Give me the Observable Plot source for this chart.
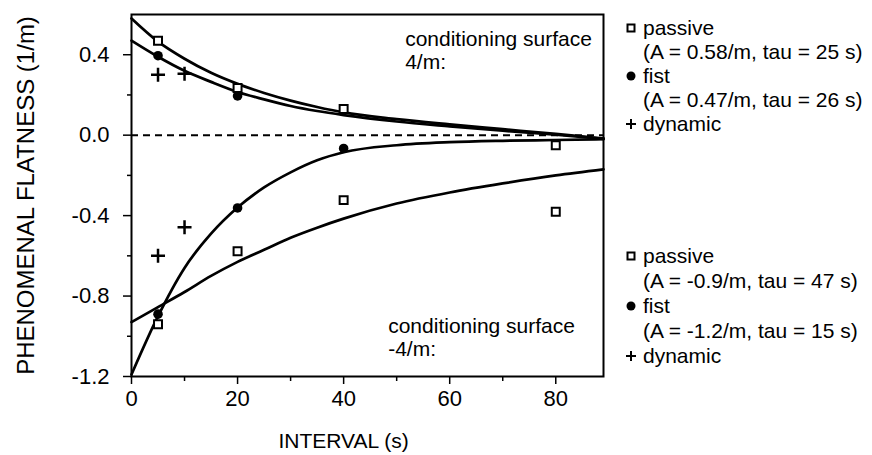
<!DOCTYPE html>
<html>
<head>
<meta charset="utf-8">
<script src="https://cdn.jsdelivr.net/npm/d3@7"></script>
<script src="https://cdn.jsdelivr.net/npm/@observablehq/plot@0.6"></script>
<style>
  body { margin: 0; background: #fff; }
  #wrap { position: relative; width: 872px; height: 455px; font-family: "Liberation Sans", Arial, Helvetica, sans-serif; color: #000; background: #fff; }
  .lg { position: absolute; left: 625px; height: 24px; line-height: 24px; font-size: 21px; white-space: nowrap; display: flex; align-items: center; }
  .mk { width: 18px; height: 24px; display: flex; align-items: center; }
</style>
</head>
<body>
<div id="wrap"></div>
<script>
// ---- data ----
// measured points (interval s, flatness 1/m)
const upperPassiveT = [5, 20, 40, 80];
const upperPassiveV = [0.47, 0.235, 0.13, -0.05];
const upperFistT = [5, 20];
const upperFistV = [0.395, 0.195];
const upperDynT = [5, 10];
const upperDynV = [0.30, 0.305];
const lowerPassiveT = [5, 20, 40, 80];
const lowerPassiveV = [-0.94, -0.577, -0.323, -0.381];
const lowerFistT = [5, 20, 40];
const lowerFistV = [-0.89, -0.362, -0.066];
const lowerDynT = [5, 10];
const lowerDynV = [-0.60, -0.458];

// fitted curves
const curveT = [0, 5, 10, 15, 20, 25, 30, 35, 40, 50, 60, 70, 80, 89];
const fitUpperPassive = [0.58, 0.465, 0.38, 0.31, 0.255, 0.21, 0.172, 0.14, 0.113, 0.08, 0.054, 0.03, 0.006, -0.016];
const fitUpperFist    = [0.47, 0.39, 0.32, 0.265, 0.215, 0.178, 0.145, 0.12, 0.10, 0.068, 0.044, 0.022, 0.002, -0.018];
const fitLowerPassive = [-0.93, -0.855, -0.78, -0.70, -0.63, -0.57, -0.51, -0.46, -0.415, -0.34, -0.285, -0.24, -0.20, -0.17];
const fitLowerFist    = [-1.19, -0.90, -0.66, -0.49, -0.36, -0.26, -0.185, -0.125, -0.085, -0.05, -0.035, -0.028, -0.024, -0.02];

// ticks
const xMajor = [0, 20, 40, 60, 80];
const xMinor = [10, 30, 50, 70];
const yMajor = [-1.2, -0.8, -0.4, 0, 0.4];
const yMinor = [-1.0, -0.6, -0.2, 0.2];

// texts
const yLabel = "PHENOMENAL FLATNESS (1/m)";
const xLabel = "INTERVAL (s)";
const annotations = [
  {x: 51.6, y: 0.423, text: "conditioning surface\n4/m:"},
  {x: 48.4, y: -1.005, text: "conditioning surface\n-4/m:"}
];
const legendTop = [
  ["square", "passive"],
  [null, "(A = 0.58/m, tau = 25 s)"],
  ["circle", "fist"],
  [null, "(A = 0.47/m, tau = 26 s)"],
  ["plus", "dynamic"]
];
const legendBottom = [
  ["square", "passive"],
  [null, "(A = -0.9/m, tau = 47 s)"],
  ["circle", "fist"],
  [null, "(A = -1.2/m, tau = 15 s)"],
  ["plus", "dynamic"]
];

// ---- build tables ----
const zip = (T, V) => T.map((t, i) => ({t, v: V[i]}));
const passive = [...zip(upperPassiveT, upperPassiveV), ...zip(lowerPassiveT, lowerPassiveV)];
const fist = [...zip(upperFistT, upperFistV), ...zip(lowerFistT, lowerFistV)];
const dynamic = [...zip(upperDynT, upperDynV), ...zip(lowerDynT, lowerDynV)];
const fits = [fitUpperPassive, fitUpperFist, fitLowerPassive, fitLowerFist]
  .flatMap((arr, k) => arr.map((v, j) => ({t: curveT[j], v, k})));

const plusSymbol = {
  draw(context, size) {
    const r = Math.sqrt(size / Math.PI);
    context.moveTo(-r, 0); context.lineTo(r, 0);
    context.moveTo(0, -r); context.lineTo(0, r);
  }
};

const font = '"Liberation Sans", Arial, Helvetica, sans-serif';

const chart = Plot.plot({
  width: 872,
  height: 455,
  marginLeft: 131,
  marginRight: 269,
  marginTop: 14,
  marginBottom: 79,
  x: {domain: [0, 89]},
  y: {domain: [-1.2, 0.6]},
  style: {fontFamily: font, fontSize: "22px", background: "white", color: "black", overflow: "visible"},
  marks: [
    Plot.ruleY([0], {strokeDasharray: "7,5", strokeWidth: 2}),
    Plot.line(fits, {x: "t", y: "v", z: "k", curve: "monotone-x", stroke: "black", strokeWidth: 2.7}),
    Plot.dot(passive, {x: "t", y: "v", symbol: "square", r: 4.5, fill: "white", stroke: "black", strokeWidth: 2}),
    Plot.dot(fist, {x: "t", y: "v", symbol: "circle", r: 4.8, fill: "black", stroke: "none"}),
    Plot.dot(dynamic, {x: "t", y: "v", symbol: plusSymbol, r: 7, fill: "none", stroke: "black", strokeWidth: 2.5}),
    Plot.frame({stroke: "black", strokeWidth: 2}),
    Plot.axisX({ticks: xMajor, tickSize: 8, tickPadding: 6, tickFormat: d => String(d), label: null, strokeWidth: 1.5, fontSize: 22}),
    Plot.axisX({ticks: xMinor, tickSize: 5, tickFormat: () => "", label: null, strokeWidth: 1.5}),
    Plot.axisY({ticks: yMajor, tickSize: 8, tickPadding: 14, tickFormat: d => d.toFixed(1), label: null, strokeWidth: 1.5, fontSize: 22}),
    Plot.axisY({ticks: yMinor, tickSize: 4, tickFormat: () => "", label: null, strokeWidth: 1.5}),
    Plot.text([yLabel], {frameAnchor: "left", dx: -105, rotate: -90, textAnchor: "middle", lineAnchor: "middle", fontSize: 24, text: d => d}),
    Plot.text([xLabel], {x: () => 40, frameAnchor: "bottom", dy: 65, textAnchor: "middle", lineAnchor: "middle", fontSize: 21, text: d => d}),
    Plot.text(annotations, {x: "x", y: "y", text: "text", textAnchor: "start", lineAnchor: "middle", lineHeight: 1.1, fontSize: 21})
  ]
});

const wrap = document.getElementById("wrap");
wrap.appendChild(chart);

function marker(kind) {
  const ns = "http://www.w3.org/2000/svg";
  const s = document.createElementNS(ns, "svg");
  s.setAttribute("width", "12"); s.setAttribute("height", "12");
  s.setAttribute("viewBox", "-6 -6 12 12");
  let el;
  if (kind === "square") {
    el = document.createElementNS(ns, "rect");
    el.setAttribute("x", -3.5); el.setAttribute("y", -3.5);
    el.setAttribute("width", 7); el.setAttribute("height", 7);
    el.setAttribute("fill", "white"); el.setAttribute("stroke", "black"); el.setAttribute("stroke-width", 2);
  } else if (kind === "circle") {
    el = document.createElementNS(ns, "circle");
    el.setAttribute("r", 4.5); el.setAttribute("fill", "black");
  } else {
    el = document.createElementNS(ns, "path");
    el.setAttribute("d", "M-5,0H5M0,-5V5");
    el.setAttribute("stroke", "black"); el.setAttribute("stroke-width", 2); el.setAttribute("fill", "none");
  }
  s.appendChild(el);
  return s;
}

function legend(rows, top, step) {
  rows.forEach(([kind, label], i) => {
    const d = document.createElement("div");
    d.className = "lg";
    d.style.top = (top + i * step) + "px";
    const m = document.createElement("span");
    m.className = "mk";
    if (kind) m.appendChild(marker(kind));
    d.appendChild(m);
    const t = document.createElement("span");
    t.textContent = label;
    d.appendChild(t);
    wrap.appendChild(d);
  });
}
legend(legendTop, 16, 24);
legend(legendBottom, 244, 25);
</script>
</body>
</html>
